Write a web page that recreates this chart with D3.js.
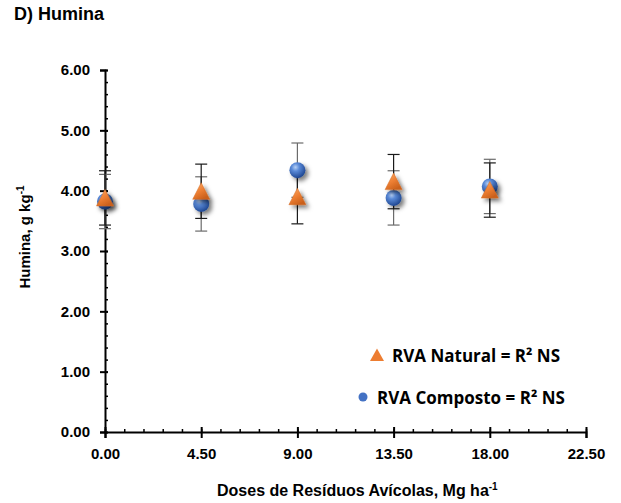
<!DOCTYPE html>
<html lang="pt">
<head>
<meta charset="utf-8">
<title>D) Humina</title>
<script src="https://cdn.jsdelivr.net/npm/d3@7"></script>
<style>
  body { margin: 0; background: #fff; }
  svg text { font-family: "Liberation Sans", Arial, sans-serif; font-weight: bold; fill: #000; }
  .legend text { font-family: "Open Sans", Lato, sans-serif; font-weight: 700; }
</style>
</head>
<body>
<svg id="chart" width="621" height="503"></svg>
<script>
// data
var doses = [0, 4.5, 9, 13.5, 18];
var natural = [3.88, 3.99, 3.90, 4.15, 4.01];
var composto = [3.82, 3.78, 4.34, 3.88, 4.07];
var errNatural = [0.45, 0.45, 0.45, 0.45, 0.45];
var errComposto = [0.45, 0.45, 0.45, 0.45, 0.45];

var xTicks = [0, 4.5, 9, 13.5, 18, 22.5];
var yTicks = [0, 1, 2, 3, 4, 5, 6];
var legendLabels = ["RVA Natural = R² NS", "RVA Composto = R² NS"];

var svg = d3.select("#chart");
var x = d3.scaleLinear().domain([0, 22.5]).range([105, 586]);
var y = d3.scaleLinear().domain([0, 6]).range([432, 70]);
var fmt = d3.format(".2f");

// defs: shading for markers and the soft shadow
var defs = svg.append("defs");
var sph = defs.append("radialGradient").attr("id", "sphere")
  .attr("cx", "38%").attr("cy", "32%").attr("r", "70%");
sph.append("stop").attr("offset", "0%").attr("stop-color", "#b6d0f5");
sph.append("stop").attr("offset", "35%").attr("stop-color", "#5a8ad8");
sph.append("stop").attr("offset", "100%").attr("stop-color", "#1d4590");
var tri = defs.append("linearGradient").attr("id", "tri")
  .attr("x1", "0").attr("y1", "0").attr("x2", "0.6").attr("y2", "1");
tri.append("stop").attr("offset", "0%").attr("stop-color", "#f9b070");
tri.append("stop").attr("offset", "55%").attr("stop-color", "#ee7f33");
tri.append("stop").attr("offset", "100%").attr("stop-color", "#c9601c");
var sh = defs.append("filter").attr("id", "shadow")
  .attr("x", "-50%").attr("y", "-50%").attr("width", "200%").attr("height", "200%");
sh.append("feDropShadow").attr("dx", 3).attr("dy", 3).attr("stdDeviation", 2.2)
  .attr("flood-color", "#000").attr("flood-opacity", 0.5);

// title
svg.append("text").attr("x", 14).attr("y", 20).style("font-size", "18px").text("D) Humina");

// minor ticks
svg.append("g").attr("transform", "translate(0," + y(0) + ")")
  .call(d3.axisBottom(x).tickValues(d3.range(0, 22.51, 0.9)).tickSize(-3).tickFormat(""))
  .call(function(g) { g.select(".domain").remove(); g.selectAll("line").attr("stroke-width", 1.5); });
svg.append("g").attr("transform", "translate(" + x(0) + ",0)")
  .call(d3.axisLeft(y).tickValues(d3.range(0, 6.01, 0.2)).tickSize(-3).tickFormat(""))
  .call(function(g) { g.select(".domain").remove(); g.selectAll("line").attr("stroke-width", 1.5); });

// x axis
var xAxis = svg.append("g").attr("transform", "translate(0," + y(0) + ")")
  .call(d3.axisBottom(x).tickValues(xTicks).tickFormat(fmt).tickSizeOuter(0).tickSize(6).tickPadding(10));
xAxis.select(".domain").attr("stroke-width", 2);
xAxis.selectAll(".tick line").attr("y1", -5).attr("stroke-width", 2);
xAxis.selectAll(".tick text").style("font-size", "15px");

// y axis
var yAxis = svg.append("g").attr("transform", "translate(" + x(0) + ",0)")
  .call(d3.axisLeft(y).tickValues(yTicks).tickFormat(fmt).tickSizeOuter(0).tickSize(5).tickPadding(10));
yAxis.select(".domain").attr("stroke-width", 2);
yAxis.selectAll(".tick line").attr("x1", 3).attr("stroke-width", 2);
yAxis.selectAll(".tick text").style("font-size", "15px");

// axis titles
var xt = svg.append("text").attr("x", 217).attr("y", 496).style("font-size", "16px");
xt.append("tspan").text("Doses de Resíduos Avícolas, Mg ha");
xt.append("tspan").attr("dy", -6).style("font-size", "10px").text("-1");

var yt = svg.append("text").attr("transform", "translate(30,237) rotate(-90)")
  .attr("text-anchor", "middle").style("font-size", "15px");
yt.append("tspan").text("Humina, g kg");
yt.append("tspan").attr("dy", -6).style("font-size", "10px").text("-1");

// error bars
function errBars(vals, errs, color) {
  var g = svg.append("g").attr("stroke", color).attr("stroke-width", 1.2);
  doses.forEach(function(d, i) {
    var cx = x(d), lo = y(vals[i] - errs[i]), hi = y(vals[i] + errs[i]);
    g.append("line").attr("x1", cx).attr("x2", cx).attr("y1", lo).attr("y2", hi);
    g.append("line").attr("x1", cx - 6).attr("x2", cx + 6).attr("y1", lo).attr("y2", lo);
    g.append("line").attr("x1", cx - 6).attr("x2", cx + 6).attr("y1", hi).attr("y2", hi);
  });
}
errBars(composto, errComposto, "#6b6b6b");
errBars(natural, errNatural, "#1a1a1a");

// markers
svg.append("g").selectAll("circle").data(doses).join("circle")
  .attr("cx", function(d) { return x(d); })
  .attr("cy", function(d, i) { return y(composto[i]); })
  .attr("r", 8)
  .attr("fill", "url(#sphere)")
  .attr("filter", "url(#shadow)");

var triPath = "M0,-8.5L8.5,8L-8.5,8Z";
svg.append("g").selectAll("path").data(doses).join("path")
  .attr("transform", function(d, i) { return "translate(" + x(d) + "," + y(natural[i]) + ")"; })
  .attr("d", triPath)
  .attr("fill", "url(#tri)")
  .attr("stroke", "#d46a22").attr("stroke-width", 0.5)
  .attr("filter", "url(#shadow)");

// legend
var leg = svg.append("g").attr("class", "legend");
leg.append("path").attr("transform", "translate(377,355)").attr("d", "M0,-6.5L7,6L-7,6Z").attr("fill", "#ed7d31");
leg.append("text").attr("x", 392).attr("y", 362).style("font-size", "17px").text(legendLabels[0]);
leg.append("circle").attr("cx", 363).attr("cy", 397).attr("r", 4.5).attr("fill", "#4472c4");
leg.append("text").attr("x", 377).attr("y", 404).style("font-size", "17px").text(legendLabels[1]);
</script>
</body>
</html>
